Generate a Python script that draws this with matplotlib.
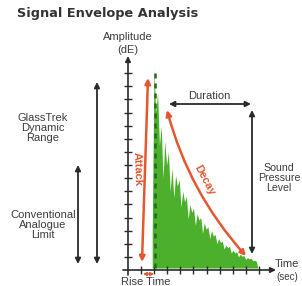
import numpy as np
import matplotlib
matplotlib.use("Agg")
import matplotlib.pyplot as plt

# envelope samples (time units = axis ticks, amplitude units = axis ticks)
t_start, t_end = 1.85, 9.95
amplitude = [3.0, 15.3, 12.0, 13.5, 9.5, 11.0, 7.0, 9.8, 8.0, 9.0,
             6.0, 7.8, 5.5, 7.2, 6.4, 6.9, 4.8, 6.0, 5.2, 5.6,
             3.9, 5.0, 4.4, 4.7, 3.4, 4.3, 3.8, 4.0, 2.8, 3.6,
             3.1, 3.3, 2.4, 3.0, 2.6, 2.7, 2.0, 2.4, 2.1, 2.2,
             1.6, 1.9, 1.7, 1.8, 1.3, 1.5, 1.3, 1.4, 1.0, 1.2,
             1.05, 1.1, 0.8, 0.95, 0.85, 0.9, 0.7, 0.75, 0.65, 0.0]
onset_time = 2.05
x_ticks = list(range(1, 11))
y_ticks = list(range(1, 16))

title = "Signal Envelope Analysis"
RED = "#e4582f"
GREEN = "#4cb02c"
DARK = "#2a2a2a"
TXT = "#3c3c3c"
FONT = "Liberation Sans"
FS = 8

fig = plt.figure(figsize=(3.02, 2.86), dpi=100)

# signal axes
sig = fig.add_axes([128 / 302, 16 / 286, 144 / 302, 210 / 286])
sig.set_xlim(0, 11)
sig.set_ylim(0, 16)
sig.patch.set_visible(False)
for s in sig.spines.values():
    s.set_visible(False)
sig.set_xticks(x_ticks)
sig.set_yticks(y_ticks)
sig.tick_params(direction="inout", length=6, width=1, color=DARK,
                labelbottom=False, labelleft=False)
t = np.linspace(t_start, t_end, len(amplitude))
sig.fill_between(t, 0.15, amplitude, color=GREEN, lw=0)
sig.plot([onset_time, onset_time], [0.15, max(amplitude)], color="#1f6a1f",
         ls=(0, (2, 2)), lw=1.8)

# overlay in pixel coordinates
ax = fig.add_axes([0, 0, 1, 1])
ax.set_xlim(0, 302)
ax.set_ylim(286, 0)
ax.axis("off")


def arrow(p0, p1, color=DARK, lw=1.3, style="<|-|>", rad=0.0, ms=8):
    ax.annotate("", xy=p1, xytext=p0,
                arrowprops=dict(arrowstyle=style, color=color, lw=lw,
                                mutation_scale=ms, shrinkA=0, shrinkB=0,
                                connectionstyle=f"arc3,rad={rad}"))


def label(x, y, s, size=FS, color=TXT, **kw):
    ax.text(x, y, s, fontsize=size, family=FONT, color=color,
            ha="center", va="center", linespacing=1.05, **kw)


# axes lines
arrow((128, 275), (128, 56), style="-|>", lw=1.2)
arrow((123, 270), (276, 270), style="-|>", lw=1.2)

ax.text(17, 14, title, fontsize=9.3, fontweight="bold", color="#333333",
        ha="left", va="center")
label(128, 37, "Amplitude")
label(128, 50, "(dE)")
label(287, 264, "Time")
label(287, 277, "(sec)", size=7)
label(146, 282, "Rise Time")

# left range arrows
arrow((97, 264), (97, 82))
arrow((78, 264), (78, 165))
label(43, 128, "GlassTrek\nDynamic\nRange")
label(43, 225, "Conventional\nAnalogue\nLimit")

# attack / decay
arrow((142, 262), (148, 78), color=RED, lw=1.8)
label(137, 169, "Attack", size=8, color=RED, rotation=-88, fontweight="bold")
arrow((167, 110), (246, 256), color=RED, lw=1.8, rad=0.12)
label(204, 180, "Decay", size=8, color=RED, rotation=-62, fontweight="bold")
arrow((143, 274), (154, 274), color=RED, lw=1.0, ms=5)

# duration / SPL
arrow((169, 104), (251, 104))
label(209, 96, "Duration")
arrow((252, 110), (252, 254))
label(279, 178, "Sound\nPressure\nLevel", size=7.6)

fig.savefig("out.png", dpi=100)
